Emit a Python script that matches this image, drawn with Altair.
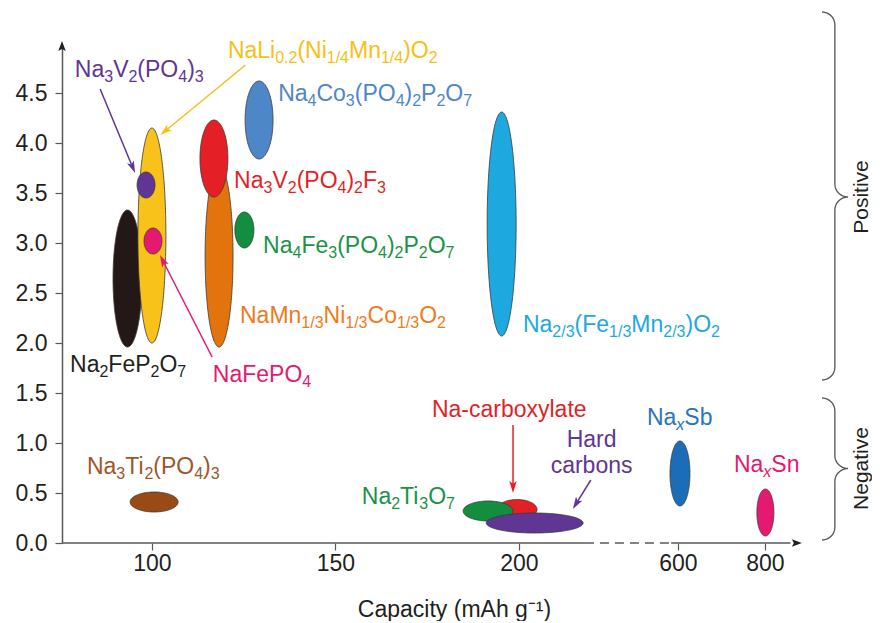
import altair as alt
import numpy as np
import pandas as pd

# ---------------- data ----------------
# ellipses: capacity centre (mAh/g), capacity half-width (axis units), voltage centre, voltage half-height
ell_names = ["Na2FeP2O7", "NaLi0.2(Ni1/4Mn1/4)O2", "Na3V2(PO4)3", "NaFePO4",
             "NaMn1/3Ni1/3Co1/3O2", "Na3V2(PO4)2F3", "Na4Fe3(PO4)2P2O7",
             "Na4Co3(PO4)2P2O7", "Na2/3(Fe1/3Mn2/3)O2", "Na3Ti2(PO4)3",
             "Na-carboxylate", "Na2Ti3O7", "Hard carbons", "NaxSb", "NaxSn"]
cap_center = [93.35, 100.0, 98.4, 100.3, 118.3, 116.9, 125.2, 129.2, 195.3,
              100.6, 199.5, 191.6, 204.3, 604.6, 801.0]
cap_half = [3.95, 3.81, 2.45, 2.45, 3.81, 3.81, 2.6, 3.81, 3.95,
            6.54, 5.45, 6.8, 13.2, 2.72, 2.32]
volt_center = [2.645, 3.075, 3.58, 3.02, 2.87, 3.845, 3.13, 4.23, 3.19,
               0.41, 0.335, 0.32, 0.20, 0.695, 0.305]
volt_half = [0.685, 1.075, 0.13, 0.13, 0.91, 0.385, 0.18, 0.39, 1.12,
             0.10, 0.10, 0.10, 0.10, 0.325, 0.235]
ell_colors = ["#231816", "#F8C21A", "#5F3693", "#E4196F", "#E3730D", "#E41F26",
              "#138E3F", "#4E87C7", "#1DA8E0", "#9A4A14", "#E41F26", "#138E3F",
              "#5F3693", "#1B6DB7", "#E4196F"]

# labels (left aligned); _{..} marks a subscript, _{*..} an italic subscript
lab_text = ["Na_{3}V_{2}(PO_{4})_{3}", "NaLi_{0.2}(Ni_{1/4}Mn_{1/4})O_{2}",
            "Na_{4}Co_{3}(PO_{4})_{2}P_{2}O_{7}", "Na_{3}V_{2}(PO_{4})_{2}F_{3}",
            "Na_{4}Fe_{3}(PO_{4})_{2}P_{2}O_{7}", "NaMn_{1/3}Ni_{1/3}Co_{1/3}O_{2}",
            "Na_{2/3}(Fe_{1/3}Mn_{2/3})O_{2}", "Na_{2}FeP_{2}O_{7}", "NaFePO_{4}",
            "Na_{3}Ti_{2}(PO_{4})_{3}", "Na_{2}Ti_{3}O_{7}", "Na-carboxylate",
            "Na_{*x}Sb", "Na_{*x}Sn"]
lab_x = [79.0, 120.7, 134.4, 122.4, 130.3, 124.0, 201.1, 77.7, 116.6, 82.3,
         157.2, 176.3, 234.9, 258.6]
lab_y = [4.66, 4.85, 4.42, 3.55, 2.90, 2.20, 2.11, 1.71, 1.61, 0.69,
         0.39, 1.26, 1.18, 0.71]
lab_color = ["#5F3693", "#F5BF1A", "#4E87C7", "#E41F26", "#1A9346", "#EE7B1D",
             "#1DA8E0", "#231F20", "#E4196F", "#A0562A", "#1A9346", "#E41F26",
             "#2C74BA", "#E4196F"]

# centred labels
clab_text = ["Hard", "carbons"]
clab_x = [219.8, 219.8]
clab_y = [0.96, 0.70]
clab_color = ["#5F3693", "#5F3693"]

# annotation arrows (from -> tip), data units
arr_x1 = [85.9, 125.5, 116.4, 198.4, 219.6]
arr_y1 = [4.54, 4.78, 1.86, 1.18, 0.63]
arr_x2 = [95.4, 102.3, 102.2, 198.4, 214.7]
arr_y2 = [3.70, 4.08, 2.88, 0.50, 0.34]
arr_color = ["#5F3693", "#F5BF1A", "#E4196F", "#E41F26", "#5F3693"]

# group braces: top, tip, bottom (voltage units)
brace_names = ["Positive", "Negative"]
brace_top = [5.31, 1.45]
brace_tip = [3.46, 0.745]
brace_bot = [1.63, 0.03]

# axis
x_tick_vals = [100, 150, 200, 600, 800]
y_tick_vals = [0, 0.5, 1.0, 1.5, 2.0, 2.5, 3.0, 3.5, 4.0, 4.5]

# ---------------- geometry helpers ----------------
X_MIN, X_MAX = 75.5, 276.6
Y_MIN, Y_MAX = 0.0, 4.98
W, H = 738, 498
PXX = W / (X_MAX - X_MIN)
PXY = H / (Y_MAX - Y_MIN)
POS600, POS800 = 243.35, 267.05
MAIN_FS, SUB_FS, SUB_DROP = 23, 16, 5.0


def axis_pos(c):
    if c <= 300:
        return c
    return POS600 + (c - 600) * (POS800 - POS600) / 200.0


# Arial / Liberation Sans advance widths (em)
ADV = {'N': .722, 'a': .556, 'V': .667, '(': .333, ')': .333, 'P': .667,
       'O': .778, 'L': .556, 'i': .222, '.': .278, '/': .278, 'M': .833,
       'n': .556, 'C': .722, 'o': .556, 'F': .611, 'e': .556, 'T': .611,
       'S': .667, 'b': .556, '-': .333, 'c': .5, 'r': .333, 'x': .5, 'y': .5,
       'l': .222, 't': .278, ' ': .278}


def text_width(s, fs):
    return sum(ADV.get(ch, .556) for ch in s) * fs


def parse_runs(s):
    runs, i = [], 0
    buf = ""
    while i < len(s):
        if s.startswith("_{", i):
            if buf:
                runs.append((buf, "main"))
                buf = ""
            j = s.index("}", i)
            sub = s[i + 2:j]
            if sub.startswith("*"):
                runs.append((sub[1:], "subit"))
            else:
                runs.append((sub, "sub"))
            i = j + 1
        else:
            buf += s[i]
            i += 1
    if buf:
        runs.append((buf, "main"))
    return runs


frag_rows = []
for s, x0, y0, c in zip(lab_text, lab_x, lab_y, lab_color):
    off = 0.0
    for txt, kind in parse_runs(s):
        fs = MAIN_FS if kind == "main" else SUB_FS
        drop = 0.0 if kind == "main" else SUB_DROP
        frag_rows.append({"t": txt, "x": x0 + off / PXX, "y": y0 - drop / PXY,
                          "c": c, "kind": kind})
        off += text_width(txt, fs)
frag_df = pd.DataFrame(frag_rows)

# ellipse outlines
rows = []
for i, (cx0, rx, cy, ry) in enumerate(zip(cap_center, cap_half, volt_center, volt_half)):
    cx = axis_pos(cx0)
    for t in np.linspace(0, np.pi, 81):
        rows.append({"id": f"e{i:02d}", "x": cx + rx * np.cos(t),
                     "y": cy + ry * np.sin(t), "y2": cy - ry * np.sin(t)})
ell_df = pd.DataFrame(rows)
ids = [f"e{i:02d}" for i in range(len(ell_names))]

xs = alt.Scale(domain=[X_MIN, X_MAX], nice=False, zero=False)
ys = alt.Scale(domain=[Y_MIN, Y_MAX], nice=False, zero=False)

FONT = "Liberation Sans, Arial, Helvetica, sans-serif"
AX = "#58595B"

label_expr = ("datum.value > 255 ? '800' : datum.value > 230 ? '600' : "
              "format(datum.value, 'd')")
xaxis = alt.Axis(values=[axis_pos(v) for v in x_tick_vals], labelExpr=label_expr,
                 domain=False, grid=False, ticks=True, tickSize=7, tickColor=AX,
                 tickWidth=1.2, labelFont=FONT, labelFontSize=23,
                 labelColor="#231F20", labelPadding=2,
                 title="Capacity (mAh g⁻¹)", titleFont=FONT, titleFontSize=23,
                 titleFontWeight="normal", titleColor="#231F20",
                 titleX=392, titleY=73, titleBaseline="alphabetic",
                 titleAlign="center")
yaxis = alt.Axis(values=y_tick_vals, format=".1f", domain=True, domainColor=AX,
                 domainWidth=1.5, grid=False, tickSize=7, tickColor=AX,
                 tickWidth=1.2, labelFont=FONT, labelFontSize=23,
                 labelColor="#231F20", labelPadding=8, title=None)


def X(field="x"):
    return alt.X(f"{field}:Q", scale=xs, axis=xaxis)


def Y(field="y"):
    return alt.Y(f"{field}:Q", scale=ys, axis=yaxis, stack=None)


ellipses = alt.Chart(ell_df).mark_area(stroke="#3A3A3A", strokeWidth=0.8,
                                        opacity=1).encode(
    x=X(), y=Y(), y2="y2:Q",
    fill=alt.Fill("id:N", scale=alt.Scale(domain=ids, range=ell_colors),
                  legend=None),
)

# arrows
HEAD = 12.0
ARROW_SHAPE = "M0,-1 L0.62,1 L0,0.55 L-0.62,1 Z"
rule_rows, head_rows = [], []
for x1, y1, x2, y2, c in zip(arr_x1, arr_y1, arr_x2, arr_y2, arr_color):
    dxp = (x2 - x1) * PXX
    dyp = -(y2 - y1) * PXY
    L = np.hypot(dxp, dyp)
    ux, uy = dxp / L, dyp / L
    ang = (np.degrees(np.arctan2(ux, -uy)) + 360) % 360
    ex = x2 - ux * (HEAD * 0.75) / PXX
    ey = y2 + uy * (HEAD * 0.75) / PXY
    rule_rows.append({"x": x1, "y": y1, "x2": ex, "y2": ey, "c": c})
    hx = x2 - ux * (HEAD / 2) / PXX
    hy = y2 + uy * (HEAD / 2) / PXY
    head_rows.append({"x": hx, "y": hy, "ang": ang, "c": c})
rule_df = pd.DataFrame(rule_rows)
head_df = pd.DataFrame(head_rows)

arrows = alt.Chart(rule_df).mark_rule(strokeWidth=1.5).encode(
    x=X(), y=Y(), x2="x2:Q", y2="y2:Q", color=alt.Color("c:N", scale=None))
heads = alt.Chart(head_df).mark_point(shape=ARROW_SHAPE, filled=True, size=HEAD ** 2,
                                      opacity=1, strokeWidth=0).encode(
    x=X(), y=Y(), angle=alt.Angle("ang:Q", scale=None),
    color=alt.Color("c:N", scale=None))

# x axis line with break (solid - dashed - solid) and arrowheads on both axes
axis_seg = pd.DataFrame({
    "x": [X_MIN, 218.0, 241.5], "x2": [218.0, 241.5, 274.0],
    "y": [0.0, 0.0, 0.0], "dash": ["solid", "dash", "solid"]})
axis_solid = alt.Chart(axis_seg[axis_seg.dash == "solid"]).mark_rule(
    color=AX, strokeWidth=1.5).encode(x=X(), x2="x2:Q", y=Y())
axis_dash = alt.Chart(axis_seg[axis_seg.dash == "dash"]).mark_rule(
    color=AX, strokeWidth=1.5, strokeDash=[9, 6]).encode(x=X(), x2="x2:Q", y=Y())
axis_heads_df = pd.DataFrame({"x": [X_MIN, 277.1 - 5 / PXX], "y": [5.02 - 5 / PXY, 0.0],
                              "ang": [0, 90]})
axis_heads = alt.Chart(axis_heads_df).mark_point(
    shape="M0,-1 L0.75,1 L0,0.6 L-0.75,1 Z", filled=True, size=100, color="#231F20",
    opacity=1, strokeWidth=0).encode(
    x=X(), y=Y(), angle=alt.Angle("ang:Q", scale=None))

# labels (main text and subscripts)
def frag_layer(kind, fs, style):
    return alt.Chart(frag_df[frag_df.kind == kind]).mark_text(
        align="left", baseline="alphabetic", font=FONT, fontSize=fs,
        fontStyle=style).encode(
        x=X(), y=Y(), text="t:N", color=alt.Color("c:N", scale=None))


lab_main = frag_layer("main", MAIN_FS, "normal")
lab_sub = frag_layer("sub", SUB_FS, "normal")
lab_subit = frag_layer("subit", SUB_FS, "italic")

clab_df = pd.DataFrame({"t": clab_text, "x": clab_x, "y": clab_y, "c": clab_color})
clabels = alt.Chart(clab_df).mark_text(align="center", baseline="alphabetic",
                                       font=FONT, fontSize=MAIN_FS).encode(
    x=X(), y=Y(), text="t:N", color=alt.Color("c:N", scale=None))

# braces
BX0, BX1, BX2 = 282.6, 286.1, 289.7   # outer hook, spine, tip (axis units)
RX = BX1 - BX0
RY = 13.0 / PXY
brows = []
for name, yt, ym, yb in zip(brace_names, brace_top, brace_tip, brace_bot):
    pts = []
    for a in np.linspace(np.pi / 2, 0, 12):
        pts.append((BX0 + RX * np.cos(a), yt - RY + RY * np.sin(a)))
    for a in np.linspace(np.pi, 3 * np.pi / 2, 12):
        pts.append((BX2 + (BX2 - BX1) * np.cos(a), ym + RY + RY * np.sin(a)))
    for a in np.linspace(np.pi / 2, np.pi, 12):
        pts.append((BX2 + (BX2 - BX1) * np.cos(a), ym - RY + RY * np.sin(a)))
    for a in np.linspace(0, -np.pi / 2, 12):
        pts.append((BX0 + RX * np.cos(a), yb + RY + RY * np.sin(a)))
    for k, (px, py) in enumerate(pts):
        brows.append({"g": name, "o": k, "x": px, "y": py})
brace_df = pd.DataFrame(brows)
braces = alt.Chart(brace_df).mark_line(color="#555555", strokeWidth=1.3).encode(
    x=X(), y=Y(), detail="g:N", order="o:Q")

group_df = pd.DataFrame({"t": brace_names, "x": [293.4, 293.4],
                         "y": [brace_tip[0], brace_tip[1]]})
group_labels = alt.Chart(group_df).mark_text(angle=270, align="center",
                                             baseline="middle", font=FONT,
                                             fontSize=21, color="#231F20").encode(
    x=X(), y=Y(), text="t:N")

chart = alt.layer(
    ellipses, axis_solid, axis_dash, axis_heads, arrows, heads,
    lab_main, lab_sub, lab_subit, clabels, braces, group_labels
).properties(
    width=W, height=H, background="white",
    padding={"left": 54, "top": 37, "right": 72, "bottom": 78},
    autosize=alt.AutoSizeParams(type="none"),
).configure_view(stroke=None)

chart.save("out.html", embed_options={"renderer": "svg", "actions": False})
